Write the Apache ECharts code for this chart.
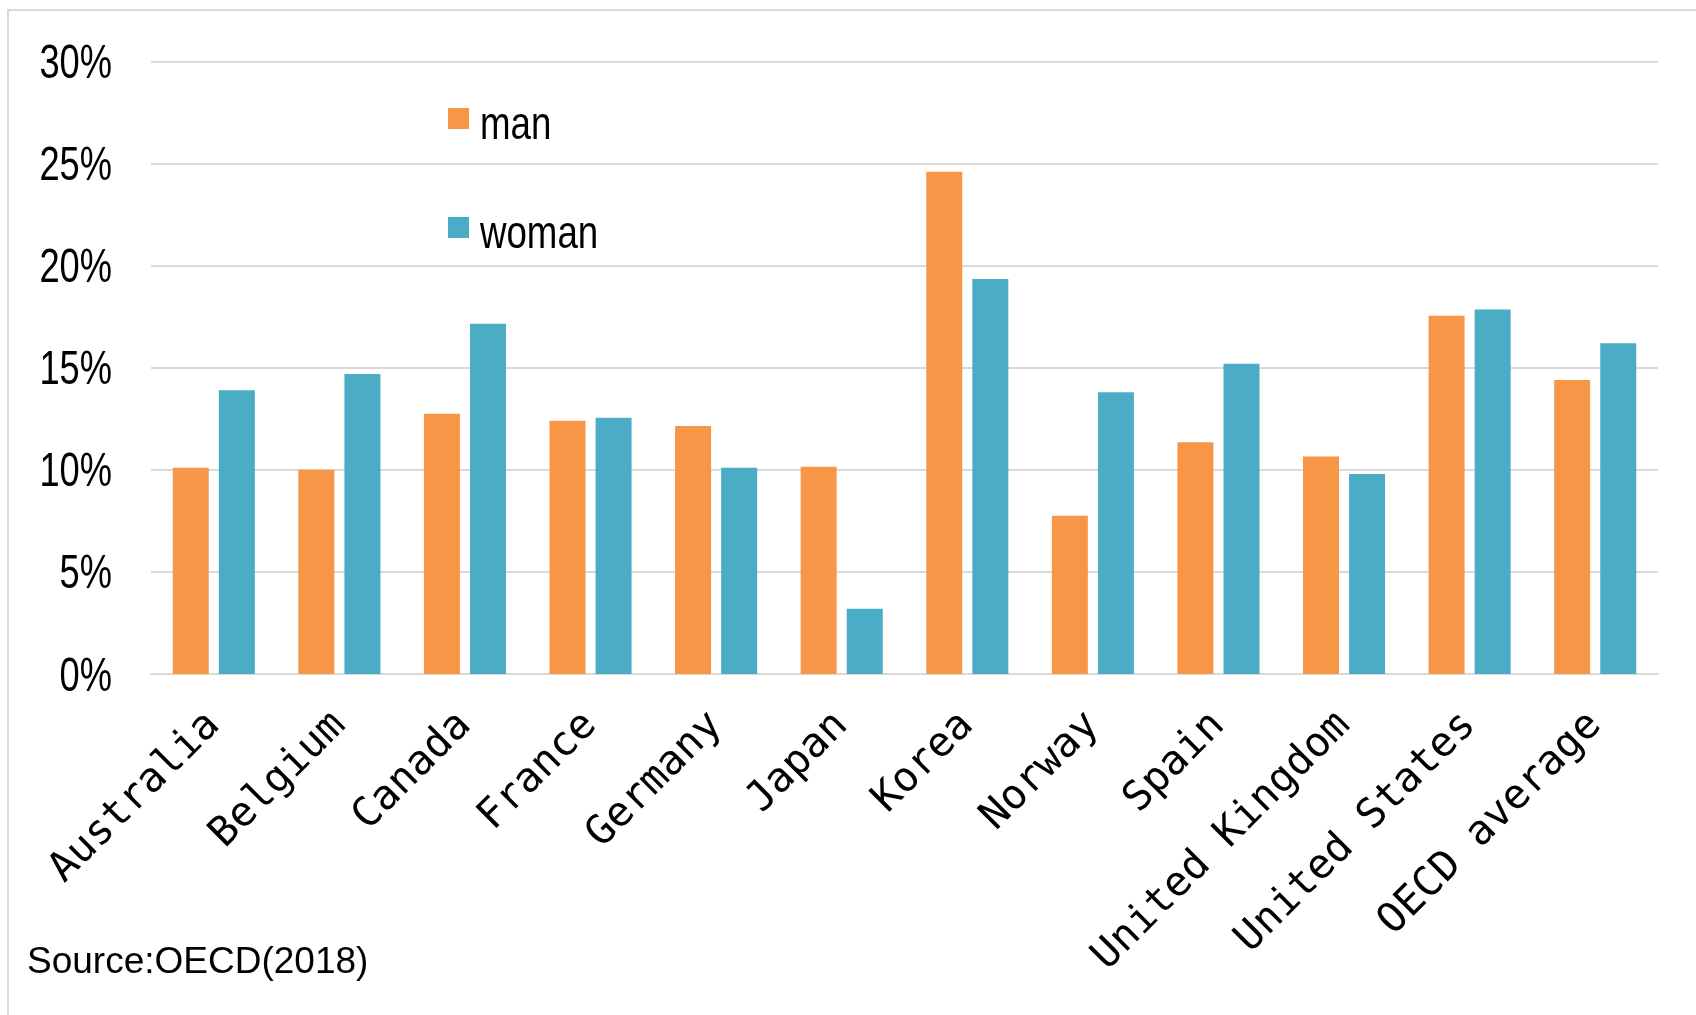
<!DOCTYPE html>
<html>
<head>
<meta charset="utf-8">
<script src="https://cdn.jsdelivr.net/npm/echarts@6/dist/echarts.min.js"></script>
<style>
  html, body { margin: 0; padding: 0; background: #fff; }
  #chart { width: 1696px; height: 1015px; }
</style>
</head>
<body>
<div id="chart"></div>
<script>
var countries = ['Australia', 'Belgium', 'Canada', 'France', 'Germany', 'Japan', 'Korea',
  'Norway', 'Spain', 'United Kingdom', 'United States', 'OECD average'];
var man = [10.1, 10.0, 12.75, 12.4, 12.15, 10.15, 24.6, 7.75, 11.35, 10.65, 17.55, 14.4];
var woman = [13.9, 14.7, 17.15, 12.55, 10.1, 3.2, 19.35, 13.8, 15.2, 9.8, 17.85, 16.2];
var yTicks = [0, 5, 10, 15, 20, 25, 30];
var seriesNames = ['man', 'woman'];

var chart = echarts.init(document.getElementById('chart'));

// narrow look of the original labels: normal font squeezed sideways
var narrowFont = '"Liberation Sans", Arial, sans-serif';

var option = {
  backgroundColor: '#ffffff',
  animation: false,
  legend: {
    orient: 'vertical',
    left: 448,
    top: 108,
    padding: 0,
    itemWidth: 21,
    itemHeight: 21,
    itemGap: 88,
    icon: 'rect',
    data: seriesNames,
    formatter: function () { return ''; },
    textStyle: { fontSize: 21 }
  },
  grid: {
    left: 151,
    right: 38,
    top: 61.5,
    bottom: 341
  },
  xAxis: {
    type: 'category',
    data: countries,
    axisLine: { lineStyle: { color: '#d9d9d9', width: 2 } },
    axisTick: { show: false },
    axisLabel: {
      interval: 0,
      rotate: 45,
      margin: 45,
      color: '#000',
      fontFamily: '"DejaVu Sans Mono", "Liberation Mono", monospace',
      fontSize: 41
    }
  },
  yAxis: {
    type: 'value',
    min: yTicks[0],
    max: yTicks[yTicks.length - 1],
    interval: 5,
    axisLine: { show: false },
    axisTick: { show: false },
    splitLine: { lineStyle: { color: '#d9d9d9', width: 2 } },
    axisLabel: { show: false }
  },
  series: [
    {
      name: 'man',
      type: 'bar',
      data: man,
      barWidth: 36,
      barGap: '28%',
      itemStyle: { color: '#F79646' }
    },
    {
      name: 'woman',
      type: 'bar',
      data: woman,
      barWidth: 36,
      itemStyle: { color: '#4BACC6' }
    }
  ]
};

chart.setOption(option);

var graphics = [
  {
    type: 'rect',
    shape: { x: 8, y: 10, width: 1720, height: 1100 },
    style: { fill: 'none', stroke: '#d9d9d9', lineWidth: 2 },
    silent: true
  },
  {
    type: 'text',
    left: 27,
    top: 944,
    style: {
      text: 'Source:OECD(2018)',
      font: '37px "Liberation Sans", Arial, sans-serif',
      fill: '#000'
    }
  }
];

// y tick labels placed through the axis scale
yTicks.forEach(function (t) {
  var py = chart.convertToPixel({ yAxisIndex: 0 }, t);
  graphics.push({
    type: 'text',
    x: 112,
    y: py + 3,
    scaleX: 0.74,
    style: {
      text: t + '%',
      font: '49px ' + narrowFont,
      fill: '#000',
      align: 'right',
      verticalAlign: 'middle'
    }
  });
});

// legend labels, squeezed like the axis labels
seriesNames.forEach(function (name, i) {
  graphics.push({
    type: 'text',
    x: 480,
    y: 126 + i * 109,
    scaleX: 0.78,
    style: {
      text: name,
      font: '47px ' + narrowFont,
      fill: '#000',
      align: 'left',
      verticalAlign: 'middle'
    }
  });
});

chart.setOption({ graphic: graphics });
</script>
</body>
</html>
